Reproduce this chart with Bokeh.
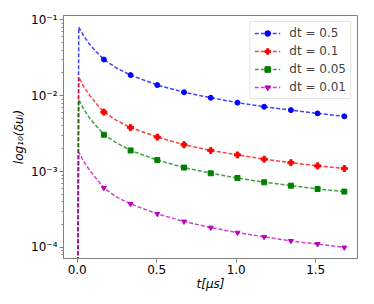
from bokeh.plotting import figure
from bokeh.models import Range1d, FixedTicker, LogTicker, CustomJSTickFormatter, Legend, LegendItem
from bokeh.embed import file_html
from bokeh.resources import INLINE

# ---- data ----
labels = ["dt = 0.5", "dt = 0.1", "dt = 0.05", "dt = 0.01"]
colors = ["#0000ff", "#ff0000", "#008000", "#bf00bf"]
markers = ["circle", "plus", "square", "inverted_triangle"]

t_line = [0.0, 0.01, 0.04, 0.08, 0.12, 0.168, 0.25, 0.336, 0.504, 0.672,
          0.84, 1.008, 1.176, 1.344, 1.512, 1.68]
t_marker = [0.168, 0.336, 0.504, 0.672, 0.84, 1.008, 1.176, 1.344, 1.512, 1.68]

du_05 = [1e-6, 0.080, 0.062, 0.047, 0.038, 0.030, 0.0230, 0.0187, 0.0138, 0.0111,
         0.0094, 0.0081, 0.00716, 0.00646, 0.00585, 0.00535]
du_01 = [1e-6, 0.0176, 0.0133, 0.0100, 0.0079, 0.00608, 0.0047, 0.0038, 0.00285, 0.00226,
         0.0019, 0.00166, 0.00146, 0.00131, 0.00119, 0.0011]
du_005 = [1e-6, 0.00885, 0.0067, 0.0050, 0.0040, 0.00306, 0.00237, 0.0019, 0.00142, 0.00113,
          0.00095, 0.000824, 0.000723, 0.000653, 0.00059, 0.000545]
du_001 = [1e-6, 0.00181, 0.00137, 0.00103, 0.00081, 0.00061, 0.00046, 0.000375, 0.000277, 0.00022,
          0.000183, 0.000157, 0.000138, 0.000122, 0.000111, 0.0001]

series = [du_05, du_01, du_005, du_001]
x_ticks = [0.0, 0.5, 1.0, 1.5]

FONT = "DejaVu Sans"

p = figure(width=366, height=296, y_axis_type="log",
           output_backend="svg", toolbar_location=None,
           x_range=Range1d(-0.086, 1.763), y_range=Range1d(7.16e-5, 0.114),
           min_border_left=63, min_border_right=9, min_border_top=15, min_border_bottom=38)

p.xgrid.visible = False
p.ygrid.visible = False
p.outline_line_color = "#808080"
p.outline_line_width = 1
p.background_fill_color = "white"
p.border_fill_color = "white"

items = []
for vals, lab, col, mk in zip(series, labels, colors, markers):
    ln = p.line(t_line, vals, line_color=col, line_width=1.5, line_dash="4 2", line_alpha=0.75)
    mv = [vals[t_line.index(t)] for t in t_marker]
    sc = p.scatter(t_marker, mv, marker=mk, size=5 if mk != "plus" else 6,
                   fill_color=col, line_color=col)
    items.append(LegendItem(label=lab, renderers=[ln, sc]))

legend = Legend(items=items, location="top_right",
                label_text_font=FONT, label_text_font_size="12px",
                label_height=14, glyph_height=14, glyph_width=26,
                spacing=4, padding=4, margin=6, label_standoff=9,
                border_line_color="#cccccc", border_line_width=1,
                background_fill_alpha=0.8)
p.add_layout(legend)

# axes
p.xaxis.ticker = FixedTicker(ticks=x_ticks)
p.xaxis.formatter = CustomJSTickFormatter(code="return tick.toFixed(1);")
p.yaxis.ticker = LogTicker(mantissas=[1], num_minor_ticks=10)
p.yaxis.formatter = CustomJSTickFormatter(code="""
const e = Math.round(Math.log10(tick));
const sup = {'-':'\u207b','0':'\u2070','1':'\u00b9','2':'\u00b2','3':'\u00b3','4':'\u2074','5':'\u2075','6':'\u2076','7':'\u2077','8':'\u2078','9':'\u2079'};
return '10' + String(e).split('').map(c => sup[c]).join('');
""")

for ax in (p.xaxis[0], p.yaxis[0]):
    ax.axis_line_color = "#808080"
    ax.major_tick_line_color = "#808080"
    ax.minor_tick_line_color = "#808080" if ax is p.yaxis[0] else None
    ax.major_tick_out = 4
    ax.major_tick_in = 0
    ax.minor_tick_out = 2
    ax.minor_tick_in = 0
    ax.major_label_text_font = FONT
    ax.major_label_text_font_size = "12px"
    ax.major_label_text_color = "black"
    ax.major_label_standoff = 2
    ax.axis_label_text_font = FONT
    ax.axis_label_text_font_size = "12px"
    ax.axis_label_text_font_style = "italic"
    ax.axis_label_text_color = "black"

p.xaxis.axis_label = "t[\u03bcs]"
p.xaxis.axis_label_standoff = 0
p.yaxis.axis_label = "log\u2081\u2080(\u03b4u\u1d62)"
p.yaxis.axis_label_standoff = 2

open("out.html", "w").write(file_html(p, INLINE))
